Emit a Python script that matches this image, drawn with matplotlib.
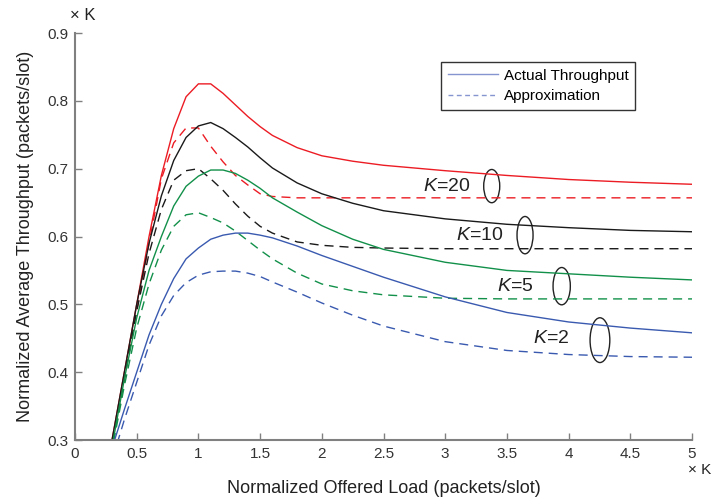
import matplotlib
matplotlib.use("Agg")
import matplotlib.pyplot as plt
from matplotlib.patches import Ellipse
from matplotlib.lines import Line2D

plt.rcParams['font.family'] = ['Liberation Sans', 'DejaVu Sans']
plt.rcParams['mathtext.fontset'] = 'custom'
plt.rcParams['mathtext.it'] = 'Liberation Sans:italic'
plt.rcParams['mathtext.rm'] = 'Liberation Sans'

# Normalized offered load (x K)
load = [0.2, 0.3, 0.4, 0.5, 0.6, 0.7, 0.8, 0.9, 1.0, 1.1, 1.2, 1.3, 1.4, 1.5, 1.6,
        1.8, 2.0, 2.25, 2.5, 3.0, 3.5, 4.0, 4.5, 5.0]

# Actual throughput
actual_k20 = [0.20, 0.30, 0.40, 0.50, 0.60, 0.69, 0.759, 0.806, 0.825, 0.825, 0.811, 0.794,
              0.777, 0.762, 0.749, 0.731, 0.719, 0.711, 0.705, 0.697, 0.690, 0.684, 0.680, 0.677]
actual_k10 = [0.20, 0.30, 0.40, 0.50, 0.59, 0.66, 0.712, 0.746, 0.763, 0.768, 0.759, 0.746,
              0.732, 0.716, 0.701, 0.679, 0.663, 0.649, 0.638, 0.626, 0.618, 0.613, 0.609, 0.607]
actual_k5 = [0.19, 0.29, 0.39, 0.48, 0.55, 0.60, 0.645, 0.674, 0.689, 0.698, 0.698, 0.693,
             0.683, 0.671, 0.657, 0.636, 0.616, 0.596, 0.581, 0.562, 0.550, 0.545, 0.540, 0.536]
actual_k2 = [0.23, 0.288, 0.345, 0.40, 0.455, 0.50, 0.538, 0.567, 0.583, 0.596, 0.602, 0.605,
             0.605, 0.602, 0.598, 0.586, 0.572, 0.556, 0.540, 0.511, 0.488, 0.474, 0.465, 0.458]

# Approximation
approx_k20 = [0.19, 0.29, 0.39, 0.49, 0.59, 0.685, 0.738, 0.760, 0.760, 0.733, 0.710, 0.690,
              0.676, 0.663, 0.659, 0.657, 0.657, 0.657, 0.657, 0.657, 0.657, 0.657, 0.657, 0.657]
approx_k10 = [0.19, 0.29, 0.39, 0.49, 0.575, 0.64, 0.683, 0.697, 0.700, 0.685, 0.668, 0.648,
              0.630, 0.615, 0.605, 0.592, 0.587, 0.584, 0.583, 0.582, 0.582, 0.582, 0.582, 0.582]
approx_k5 = [0.19, 0.285, 0.38, 0.465, 0.53, 0.58, 0.615, 0.632, 0.635, 0.628, 0.620, 0.608,
             0.594, 0.580, 0.567, 0.546, 0.530, 0.520, 0.514, 0.509, 0.508, 0.508, 0.508, 0.508]
approx_k2 = [0.21, 0.27, 0.33, 0.385, 0.44, 0.483, 0.513, 0.532, 0.543, 0.548, 0.549, 0.549,
             0.546, 0.541, 0.533, 0.518, 0.502, 0.484, 0.468, 0.445, 0.432, 0.426, 0.423, 0.422]

k_labels = ['20', '10', '5', '2']
colors = ['#ec1c24', '#1a1a1a', '#12904a', '#3a5ab0']
actual = [actual_k20, actual_k10, actual_k5, actual_k2]
approx = [approx_k20, approx_k10, approx_k5, approx_k2]

fig = plt.figure(figsize=(7.12, 5.0), dpi=100)
ax = fig.add_axes([75/712, 1-440/500, 617/712, 407/500])

for a, p, c in zip(actual, approx, colors):
    ax.plot(load, a, color=c, lw=1.0, solid_joinstyle='miter')
    ax.plot(load, p, color=c, lw=1.0, linestyle=(0, (6.5, 4.3)))

ax.set_xlim(0, 5)
ax.set_ylim(0.3, 0.9)
ax.set_xticks([0, 0.5, 1, 1.5, 2, 2.5, 3, 3.5, 4, 4.5, 5])
ax.set_xticklabels(['0', '0.5', '1', '1.5', '2', '2.5', '3', '3.5', '4', '4.5', '5'])
ax.set_yticks([0.3, 0.4, 0.5, 0.6, 0.7, 0.8, 0.9])
ax.set_yticklabels(['0.3', '0.4', '0.5', '0.6', '0.7', '0.8', '0.9'])
for s in ['top', 'right']:
    ax.spines[s].set_visible(False)
for s in ['left', 'bottom']:
    ax.spines[s].set_color('#808080')
    ax.spines[s].set_linewidth(1.5)
ax.tick_params(direction='in', length=5, width=1.0, color='#808080',
               labelsize=11, labelcolor='#333333', pad=5)

ax.set_xlabel('Normalized Offered Load (packets/slot)', fontsize=13, color='#222222', labelpad=14)
ax.set_ylabel('Normalized Average Throughput (packets/slot)', fontsize=13, color='#222222', labelpad=9)

fig.text(83/712, 1-15/500, '× K', fontsize=12, ha='center', va='center', color='#222222')
fig.text(711/712, 1-470/500, '× K', fontsize=11, ha='right', va='center', color='#222222')

# legend
handles = [Line2D([], [], color='#8595d0', lw=1.0),
           Line2D([], [], color='#8595d0', lw=1.0, linestyle=(0, (3.5, 2.5)))]
leg = ax.legend(handles, ['Actual Throughput', 'Approximation'], loc='upper left',
                bbox_to_anchor=(441/712, 1-61.7/500), bbox_transform=fig.transFigure,
                fontsize=11, frameon=True, fancybox=False, borderpad=0.45,
                handlelength=3.3, handletextpad=0.35, labelspacing=0.45, borderaxespad=0)
leg.get_frame().set_edgecolor('black')
leg.get_frame().set_linewidth(1.0)

# K annotations
label_pos = [(3.012, 0.673), (3.282, 0.602), (3.566, 0.527), (3.855, 0.449)]
ell = [(3.377, 0.6743, 0.13, 0.049), (3.647, 0.602, 0.13, 0.055),
       (3.944, 0.5268, 0.14, 0.055), (4.254, 0.4472, 0.16, 0.066)]
for lab, (tx, ty), (ex, ey, ew, eh) in zip(k_labels, label_pos, ell):
    ax.text(tx, ty, r'$K$=' + lab, fontsize=14, ha='center', va='center', color='#222222')
    ax.add_patch(Ellipse((ex, ey), ew, eh, fill=False, edgecolor='#222222', lw=1.0))

fig.savefig('out.png', dpi=100)
